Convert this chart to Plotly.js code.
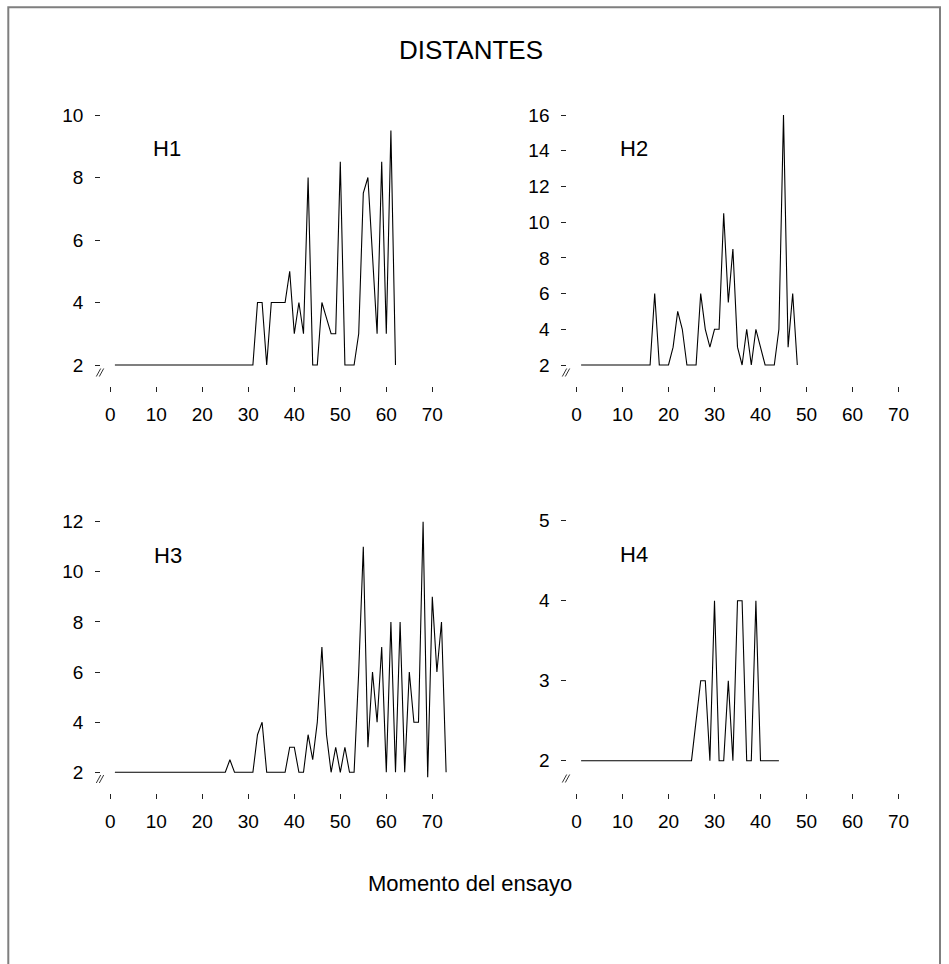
<!DOCTYPE html>
<html>
<head>
<meta charset="utf-8">
<script src="https://cdn.plot.ly/plotly-3.0.1.min.js"></script>
<style>
  html, body { margin: 0; padding: 0; background: #ffffff; }
  #chart { width: 949px; height: 964px; }
</style>
</head>
<body>
<div id="chart"></div>
<script>
// Panel names and the per-trial values for each subject (trial 1, 2, 3, ...)
const panelNames = ['H1', 'H2', 'H3', 'H4'];

const h1Values = [
  2, 2, 2, 2, 2, 2, 2, 2, 2, 2,
  2, 2, 2, 2, 2, 2, 2, 2, 2, 2,
  2, 2, 2, 2, 2, 2, 2, 2, 2, 2,
  2, 4, 4, 2, 4, 4, 4, 4, 5, 3,
  4, 3, 8, 2, 2, 4, 3.5, 3, 3, 8.5,
  2, 2, 2, 3, 7.5, 8, 5.5, 3, 8.5, 3,
  9.5, 2
];

const h2Values = [
  2, 2, 2, 2, 2, 2, 2, 2, 2, 2,
  2, 2, 2, 2, 2, 2, 6, 2, 2, 2,
  3, 5, 4, 2, 2, 2, 6, 4, 3, 4,
  4, 10.5, 5.5, 8.5, 3, 2, 4, 2, 4, 3,
  2, 2, 2, 4, 16, 3, 6, 2
];

const h3Values = [
  2, 2, 2, 2, 2, 2, 2, 2, 2, 2,
  2, 2, 2, 2, 2, 2, 2, 2, 2, 2,
  2, 2, 2, 2, 2, 2.5, 2, 2, 2, 2,
  2, 3.5, 4, 2, 2, 2, 2, 2, 3, 3,
  2, 2, 3.5, 2.5, 4, 7, 3.5, 2, 3, 2,
  3, 2, 2, 6, 11, 3, 6, 4, 7, 2,
  8, 2, 8, 2, 6, 4, 4, 12, 1.8, 9,
  6, 8, 2
];

const h4Values = [
  2, 2, 2, 2, 2, 2, 2, 2, 2, 2,
  2, 2, 2, 2, 2, 2, 2, 2, 2, 2,
  2, 2, 2, 2, 2, 2.5, 3, 3, 2, 4,
  2, 2, 3, 2, 4, 4, 2, 2, 4, 2,
  2, 2, 2, 2
];

// Tick labels
const xTickVals = [0, 10, 20, 30, 40, 50, 60, 70];
const yTicksH1 = [2, 4, 6, 8, 10];
const yTicksH2 = [2, 4, 6, 8, 10, 12, 14, 16];
const yTicksH3 = [2, 4, 6, 8, 10, 12];
const yTicksH4 = [2, 3, 4, 5];

const chartTitle = 'DISTANTES';
const xAxisTitle = 'Momento del ensayo';

// ---- layout helpers (page is 949 x 964, margins are zero so paper = page) ----
const W = 949, H = 964;
const px = x => x / W;
const py = y => 1 - y / H;

const FONT = 'Liberation Sans, Arial, Helvetica, sans-serif';
const seriesList = [h1Values, h2Values, h3Values, h4Values];
const yTickList = [yTicksH1, yTicksH2, yTicksH3, yTicksH4];
const yRanges = [[1.328, 10.096], [0.824, 16.168], [1.174, 12.108], [1.596, 5.021]];

const colDomains = [[px(101.1), px(455.3)], [px(567.3), px(921.5)]];
const rowDomains = [[py(386), py(112)], [py(793), py(519)]];

const traces = seriesList.map((vals, i) => ({
  type: 'scatter',
  mode: 'lines',
  x: vals.map((_, k) => k + 1),
  y: vals,
  xaxis: i === 0 ? 'x' : 'x' + (i + 1),
  yaxis: i === 0 ? 'y' : 'y' + (i + 1),
  line: { color: '#000000', width: 1.1 },
  hoverinfo: 'skip',
  showlegend: false
}));

const layout = {
  width: W,
  height: H,
  margin: { l: 0, r: 0, t: 0, b: 0, pad: 0 },
  paper_bgcolor: '#ffffff',
  plot_bgcolor: 'rgba(0,0,0,0)',
  showlegend: false,
  font: { family: FONT, color: '#000000' },
  title: {
    text: chartTitle,
    font: { family: FONT, size: 26, color: '#000000' },
    xref: 'paper', yref: 'paper',
    x: px(471), y: py(50),
    xanchor: 'center', yanchor: 'middle'
  },
  annotations: [],
  shapes: []
};

const axisCommon = {
  showgrid: false,
  zeroline: false,
  showline: false,
  ticks: 'outside',
  ticklen: 5,
  tickwidth: 1,
  tickcolor: '#222222',
  tickfont: { family: FONT, size: 19, color: '#000000' },
  fixedrange: true
};

for (let i = 0; i < 4; i++) {
  const col = i % 2, row = Math.floor(i / 2);
  const xs = i === 0 ? '' : String(i + 1);
  layout['xaxis' + xs] = Object.assign({}, axisCommon, {
    domain: colDomains[col],
    range: [-2, 75],
    anchor: 'y' + xs,
    tickmode: 'array',
    tickvals: xTickVals,
    ticklabelstandoff: 6
  });
  layout['yaxis' + xs] = Object.assign({}, axisCommon, {
    domain: rowDomains[row],
    range: yRanges[i],
    anchor: 'x' + xs,
    tickmode: 'array',
    tickvals: yTickList[i],
    ticklabelstandoff: 8
  });
}

// Panel labels
const labelPos = [[166.7, 148], [633.5, 148], [168, 555], [633.5, 554]];
panelNames.forEach((name, i) => {
  layout.annotations.push({
    text: name,
    xref: 'paper', yref: 'paper',
    x: px(labelPos[i][0]), y: py(labelPos[i][1]),
    xanchor: 'center', yanchor: 'middle',
    showarrow: false,
    font: { family: FONT, size: 22, color: '#000000' }
  });
});

// Shared x-axis title
layout.annotations.push({
  text: xAxisTitle,
  xref: 'paper', yref: 'paper',
  x: px(470), y: py(883),
  xanchor: 'center', yanchor: 'middle',
  showarrow: false,
  font: { family: FONT, size: 22, color: '#000000' }
});

// Axis-break marks ("//") at the foot of each y axis
const breakCenters = [[100, 372.5], [566, 372.5], [100, 779], [566, 778.5]];
breakCenters.forEach(([cx, cy]) => {
  [-1.5, 1.5].forEach(dx => {
    layout.shapes.push({
      type: 'line', xref: 'paper', yref: 'paper',
      x0: px(cx + dx - 2.2), y0: py(cy + 4),
      x1: px(cx + dx + 2.2), y1: py(cy - 4),
      line: { color: '#333333', width: 1 }
    });
  });
});

// Outer frame
layout.shapes.push({
  type: 'rect', xref: 'paper', yref: 'paper',
  x0: px(8.3), x1: px(940), y0: py(975), y1: py(7.3),
  line: { color: '#7f7f7f', width: 2 },
  fillcolor: 'rgba(0,0,0,0)'
});

Plotly.newPlot('chart', traces, layout, { staticPlot: true, displayModeBar: false });
</script>
</body>
</html>
